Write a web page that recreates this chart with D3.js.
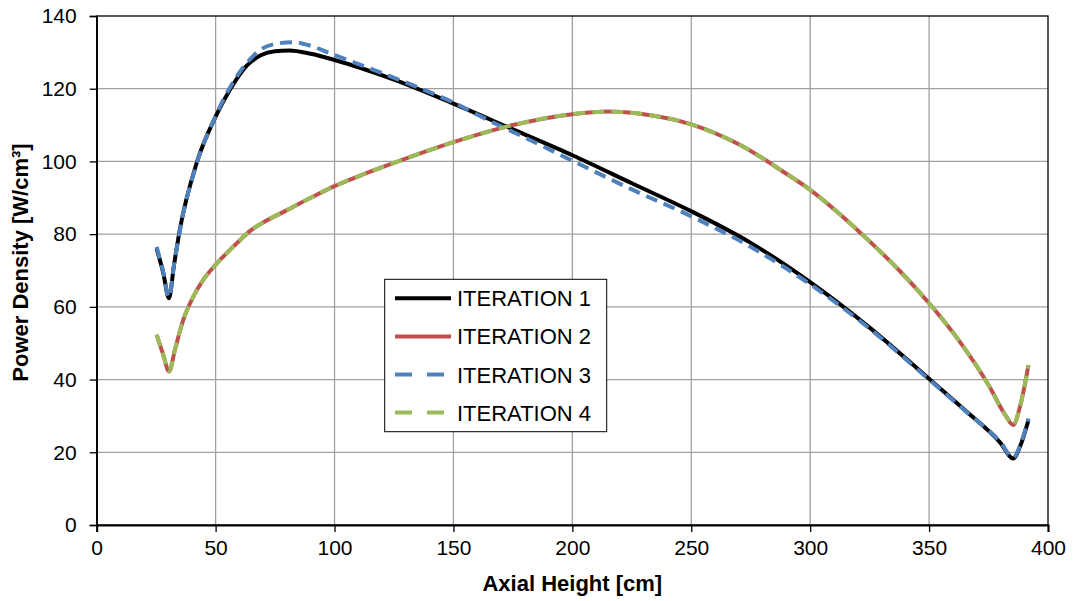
<html>
    <head>
        <script src="https://d3js.org/d3.v7.min.js" charset="utf-8"></script>
    </head>

    <style>
        body{
            margin:0;
            background:white;
        }
        .grid line{
            stroke:#a0a0a0;
            stroke-width:1.3;
        }
        .axis text{
            font-family:Arial, "Liberation Sans", sans-serif;
            font-size:21px;
            fill:black;
        }
        .title{
            font-family:Arial, "Liberation Sans", sans-serif;
            font-size:22px;
            font-weight:bold;
        }
    </style>

    <body>
        <div id='graph'></div>
    </body>
    <script>
        // values (axial height in cm, power density in W/cm3)
        const X_ITER1 = [25.2, 27.9, 30.4, 32.5, 35, 42, 50, 56, 63, 69, 75, 81, 90, 100, 125, 150, 175, 200, 225, 250, 275, 300, 325, 350, 365, 380, 385.4, 388.2, 391.8];
        const Y_ITER1 = [76, 69.6, 62.4, 71.5, 81.4, 99.5, 112.3, 119.7, 126.3, 129.2, 130.3, 130.5, 129.6, 127.9, 122.5, 115.9, 108.8, 101.7, 94, 86.3, 77.6, 66.8, 54.3, 40.2, 31.6, 22.6, 18.3, 21.5, 28.9];

        const X_ITER2 = [25.2, 27.9, 30.4, 33, 36.4, 40, 45, 50, 55, 60, 64.5, 70, 80, 90, 100, 110, 125, 150, 175, 200, 215, 230, 250, 270, 290, 300, 312.5, 325, 337.5, 350, 362.5, 375, 382, 385.4, 388.2, 391.8];
        const Y_ITER2 = [52.3, 47, 42.2, 48.5, 56.4, 62, 67.6, 71.6, 75, 78.2, 80.9, 83.2, 86.6, 90, 93.2, 95.9, 99.6, 105.3, 110, 113, 113.7, 113, 110.2, 104.7, 96.6, 92.2, 85.5, 78, 70, 61, 50.8, 38.5, 30.3, 27.5, 32.5, 44];

        const X_ITER3 = [25.2, 27.9, 30.4, 32.5, 35, 42, 50, 56, 63, 69, 75, 82.7, 90, 98, 120, 135, 150, 163, 185, 200, 225, 250, 275, 300, 325, 350, 365, 380, 385.4, 388.2, 391.8];
        const Y_ITER3 = [76.5, 69.8, 62.6, 71.5, 81.2, 99.3, 112.5, 120.3, 127, 130.8, 132.3, 132.8, 131.8, 129.8, 124.3, 120.4, 116.2, 111.9, 105, 100.2, 92.3, 84.9, 76.5, 66.2, 54, 40, 31.5, 22.8, 18.5, 21.8, 29.3];

        const X_ITER4 = [25.2, 27.9, 30.4, 33, 36.4, 40, 45, 50, 55, 60, 64.5, 70, 80, 90, 100, 110, 125, 150, 175, 200, 215, 230, 250, 270, 290, 300, 312.5, 325, 337.5, 350, 362.5, 375, 382, 385.4, 388.2, 391.8];
        const Y_ITER4 = [52.4, 47, 42.3, 48.5, 56.4, 62, 67.6, 71.6, 75, 78.2, 80.9, 83.2, 86.6, 90, 93.2, 95.9, 99.6, 105.3, 110, 113, 113.7, 113, 110.2, 104.7, 96.6, 92.2, 85.5, 78, 70, 61, 50.8, 38.5, 30.3, 27.6, 32.5, 44];

        const SERIES_NAMES = ['ITERATION 1', 'ITERATION 2', 'ITERATION 3', 'ITERATION 4'];
        const X_TICKS = [0, 50, 100, 150, 200, 250, 300, 350, 400];
        const Y_TICKS = [0, 20, 40, 60, 80, 100, 120, 140];

        const w = 1074;
        const h = 601;
        const margin = {top:16, right:26, bottom:76, left:96.7};

        const series = [
            {name:SERIES_NAMES[0], x:X_ITER1, y:Y_ITER1, color:'#000000', dash:null, legendDash:null},
            {name:SERIES_NAMES[1], x:X_ITER2, y:Y_ITER2, color:'#c0504d', dash:null, legendDash:null},
            {name:SERIES_NAMES[2], x:X_ITER3, y:Y_ITER3, color:'#4f81bd', dash:'12,7', legendDash:'17,15'},
            {name:SERIES_NAMES[3], x:X_ITER4, y:Y_ITER4, color:'#9bbb59', dash:'12,7', legendDash:'17,15'}
        ];

        const xScale = d3.scaleLinear().domain([0,400]).range([margin.left, w-margin.right]);
        const yScale = d3.scaleLinear().domain([0,140]).range([h-margin.bottom, margin.top]);

        const svg = d3.select('#graph')
                    .append('svg')
                    .attr('width',w)
                    .attr('height',h);

        // grid
        svg.append('g')
           .attr('class','grid')
           .selectAll('line')
           .data(X_TICKS.slice(1,-1))
           .enter()
           .append('line')
           .attr('x1',d=>xScale(d)).attr('x2',d=>xScale(d))
           .attr('y1',yScale(0)).attr('y2',yScale(140));

        svg.append('g')
           .attr('class','grid')
           .selectAll('line')
           .data(Y_TICKS.slice(1,-1))
           .enter()
           .append('line')
           .attr('x1',xScale(0)).attr('x2',xScale(400))
           .attr('y1',d=>yScale(d)).attr('y2',d=>yScale(d));

        // frame top and right
        svg.append('rect')
           .attr('x',xScale(0))
           .attr('y',yScale(140))
           .attr('width',xScale(400)-xScale(0))
           .attr('height',yScale(0)-yScale(140))
           .attr('fill','none')
           .attr('stroke','black')
           .attr('stroke-width',1.3);

        const xAxis = d3.axisBottom(xScale).tickValues(X_TICKS).tickSize(7).tickPadding(8);
        const yAxis = d3.axisLeft(yScale).tickValues(Y_TICKS).tickSize(7).tickPadding(13);

        const gx = svg.append('g')
           .attr('class','axis')
           .attr('transform','translate(0,'+yScale(0)+')')
           .call(xAxis);
        gx.select('.domain').attr('stroke','black').attr('stroke-width',2);
        gx.selectAll('.tick line').attr('stroke','black').attr('stroke-width',1.3);

        const gy = svg.append('g')
           .attr('class','axis')
           .attr('transform','translate('+xScale(0)+',0)')
           .call(yAxis);
        gy.select('.domain').attr('stroke','black').attr('stroke-width',1.5);
        gy.selectAll('.tick line').attr('stroke','black').attr('stroke-width',1.3);

        const line = d3.line()
                       .x(d=>xScale(d[0]))
                       .y(d=>yScale(d[1]))
                       .curve(d3.curveMonotoneX);

        series.forEach(function(s){
            const pts = s.x.map((v,i)=>[v, s.y[i]]);
            svg.append('path')
               .datum(pts)
               .attr('d',line)
               .attr('fill','none')
               .attr('stroke',s.color)
               .attr('stroke-width',4)
               .attr('stroke-linejoin','round')
               .attr('stroke-dasharray',s.dash);
        });

        // axis titles
        svg.append('text')
           .attr('class','title')
           .attr('x',(xScale(0)+xScale(400))/2)
           .attr('y',591)
           .attr('text-anchor','middle')
           .text('Axial Height [cm]');

        svg.append('text')
           .attr('class','title')
           .attr('transform','translate(28,'+(yScale(70)-8)+') rotate(-90)')
           .attr('text-anchor','middle')
           .text('Power Density [W/cm³]');

        // legend
        const legend = svg.append('g');
        legend.append('rect')
              .attr('x',384.7).attr('y',279.3)
              .attr('width',222).attr('height',152.4)
              .attr('fill','white')
              .attr('stroke','black')
              .attr('stroke-width',1);

        series.forEach(function(s,i){
            const ly = 298.3 + i*38.1;
            legend.append('line')
                  .attr('x1',395).attr('x2',451)
                  .attr('y1',ly).attr('y2',ly)
                  .attr('stroke',s.color)
                  .attr('stroke-width',4)
                  .attr('stroke-dasharray',s.legendDash);
            legend.append('text')
                  .attr('x',457)
                  .attr('y',ly+8)
                  .attr('font-family','Arial, "Liberation Sans", sans-serif')
                  .attr('font-size','22px')
                  .text(s.name);
        });
    </script>
</html>
